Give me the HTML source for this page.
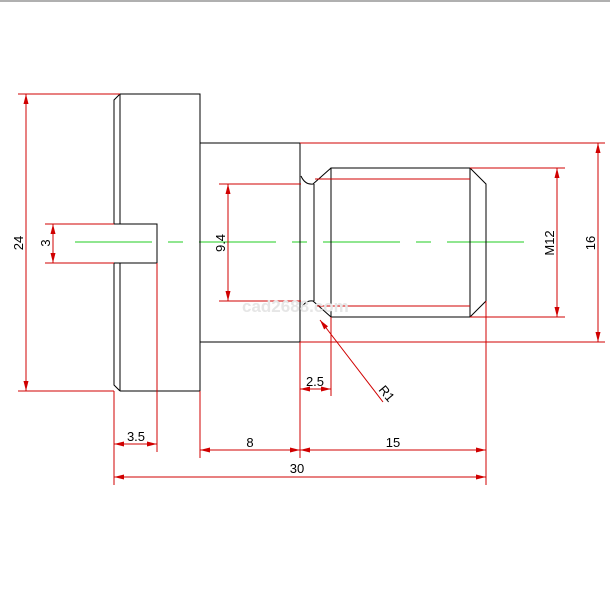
<!DOCTYPE html>
<html><head><style>html,body{margin:0;padding:0;background:#fff}svg{display:block}text{font-family:"Liberation Sans",sans-serif;font-size:13px;fill:#000}</style></head><body>
<svg width="610" height="609" viewBox="0 0 610 609" xmlns="http://www.w3.org/2000/svg">
<defs>
<marker id="a" viewBox="0 0 10 6" refX="10" refY="3" markerWidth="10" markerHeight="6" markerUnits="userSpaceOnUse" orient="auto-start-reverse"><path d="M10,3 L0,0.5 L0,5.5 Z" fill="#d00000"/></marker>
</defs>
<rect x="0" y="0" width="610" height="2" fill="#b0b0b0"/>
<g stroke="#22cc22" stroke-width="1">
<line x1="75" y1="242" x2="152" y2="242"/><line x1="168" y1="242" x2="183" y2="242"/>
<line x1="199" y1="242" x2="276" y2="242"/><line x1="292" y1="242" x2="307" y2="242"/>
<line x1="323" y1="242" x2="400" y2="242"/><line x1="416" y1="242" x2="431" y2="242"/>
<line x1="447" y1="242" x2="524" y2="242"/>
</g>
<g stroke="#000" stroke-width="1" fill="none">
<path d="M120,94 L200,94 L200,391 L120,391"/>
<path d="M120,94 L114,100 L114,224 M114,263 L114,385 L120,391"/>
<path d="M120,94 L120,224 M120,263 L120,391"/>
<path d="M114,224 L157,224 L157,263 L114,263"/>
<path d="M200,143 L300,143 L300,342 L200,342"/>
<path d="M301,176 Q305,185 313,184 L331,168 M301,309 Q305,300 313,301 L331,317"/>
<line x1="314" y1="184" x2="314" y2="301"/>
<path d="M331,168 L470,168 L486,184 L486,301 L470,317 L331,317 Z"/>
<line x1="470" y1="168" x2="470" y2="317"/>
</g>
<g stroke="#d00000" stroke-width="1" fill="none">
<line x1="18" y1="94" x2="120" y2="94"/><line x1="18" y1="391" x2="114" y2="391"/>
<line x1="26" y1="94" x2="26" y2="391" marker-start="url(#a)" marker-end="url(#a)"/>
<line x1="45" y1="224" x2="114" y2="224"/><line x1="45" y1="263" x2="114" y2="263"/>
<line x1="53" y1="224" x2="53" y2="263" marker-start="url(#a)" marker-end="url(#a)"/>
<line x1="219" y1="184" x2="301" y2="184"/><line x1="219" y1="301" x2="301" y2="301"/>
<line x1="315" y1="179" x2="470" y2="179"/><line x1="315" y1="306" x2="470" y2="306"/>
<line x1="228" y1="184" x2="228" y2="301" marker-start="url(#a)" marker-end="url(#a)"/>
<line x1="470" y1="168" x2="565" y2="168"/><line x1="470" y1="317" x2="565" y2="317"/>
<line x1="557" y1="168" x2="557" y2="317" marker-start="url(#a)" marker-end="url(#a)"/>
<line x1="300" y1="143" x2="605" y2="143"/><line x1="300" y1="342" x2="605" y2="342"/>
<line x1="598" y1="143" x2="598" y2="342" marker-start="url(#a)" marker-end="url(#a)"/>
<line x1="114" y1="391" x2="114" y2="485"/>
<line x1="157" y1="263" x2="157" y2="452"/>
<line x1="200" y1="391" x2="200" y2="458"/>
<line x1="300" y1="342" x2="300" y2="458"/>
<line x1="331" y1="317" x2="331" y2="396"/>
<line x1="486" y1="301" x2="486" y2="485"/>
<line x1="114" y1="444" x2="157" y2="444" marker-start="url(#a)" marker-end="url(#a)"/>
<line x1="200" y1="450" x2="300" y2="450" marker-start="url(#a)" marker-end="url(#a)"/>
<line x1="300" y1="450" x2="486" y2="450" marker-start="url(#a)" marker-end="url(#a)"/>
<line x1="114" y1="477" x2="486" y2="477" marker-start="url(#a)" marker-end="url(#a)"/>
<line x1="300" y1="389" x2="331" y2="389" marker-start="url(#a)" marker-end="url(#a)"/>
<line x1="320" y1="320" x2="383" y2="402" marker-start="url(#a)"/>
</g>
<text x="0" y="0" transform="translate(23,243) rotate(-90)" text-anchor="middle">24</text>
<text x="0" y="0" transform="translate(50,243) rotate(-90)" text-anchor="middle">3</text>
<text x="0" y="0" transform="translate(225,243) rotate(-90)" text-anchor="middle">9.4</text>
<text x="0" y="0" transform="translate(554,243) rotate(-90)" text-anchor="middle">M12</text>
<text x="0" y="0" transform="translate(595,243) rotate(-90)" text-anchor="middle">16</text>
<text x="136" y="441" text-anchor="middle">3.5</text>
<text x="250" y="447" text-anchor="middle">8</text>
<text x="393" y="447" text-anchor="middle">15</text>
<text x="297" y="473" text-anchor="middle">30</text>
<text x="315" y="386" text-anchor="middle">2.5</text>
<text x="0" y="0" transform="translate(378,390) rotate(50)">R1</text>
<text x="242" y="312" style="font-size:17px;font-weight:bold;fill:#e6e6e6">cad2688.com</text>
</svg>
</body></html>
